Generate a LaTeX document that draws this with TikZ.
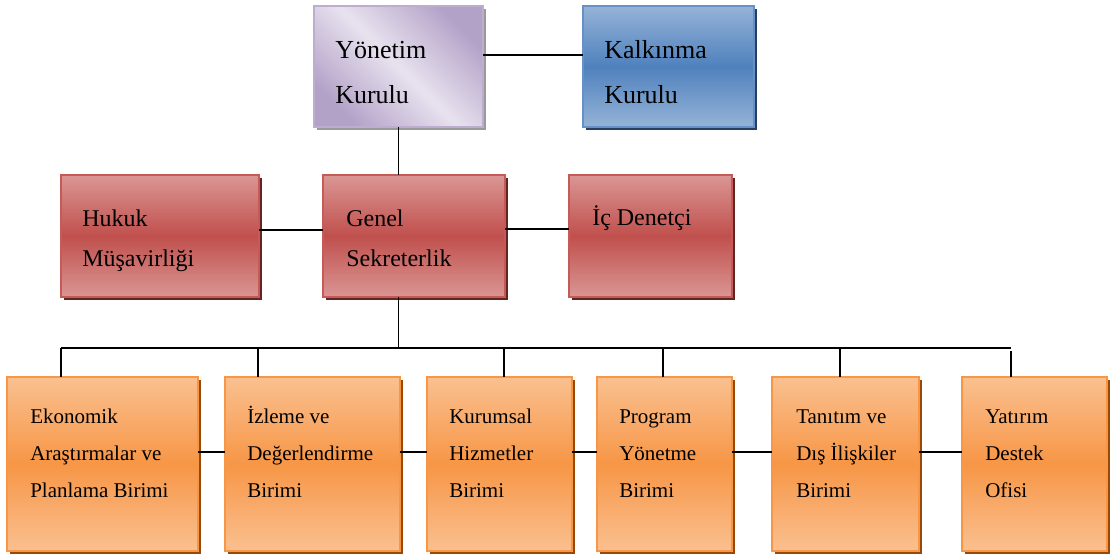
\documentclass[tikz,border=0pt]{standalone}
\usepackage{fontspec}
\setmainfont{Liberation Serif}
\usetikzlibrary{shadows,calc}
\definecolor{oLight}{HTML}{FAC090}
\definecolor{oMid}{HTML}{F79646}
\definecolor{oBorder}{HTML}{F79646}
\definecolor{oShadow}{HTML}{984807}
\definecolor{rLight}{HTML}{DA9694}
\definecolor{rMid}{HTML}{C0504D}
\definecolor{rBorder}{HTML}{C55A57}
\definecolor{rShadow}{HTML}{632523}
\definecolor{bLight}{HTML}{95B3D7}
\definecolor{bMid}{HTML}{4F81BD}
\definecolor{bBorder}{HTML}{6690C6}
\definecolor{bShadow}{HTML}{243F60}
\definecolor{pLight}{HTML}{E8E2EF}
\definecolor{pDark}{HTML}{B3A2C7}
\definecolor{pBorder}{HTML}{BDAED0}
\definecolor{pShadow}{HTML}{9A9A9A}
\begin{document}
\begin{tikzpicture}[x=0.75pt,y=-0.75pt,
  box/.style={draw, line width=1.5pt, inner sep=0pt, outer sep=0pt},
  shad/.style={drop shadow={shadow xshift=2.25pt, shadow yshift=-2.5pt, fill=#1, opacity=1}},
  pbox/.style={box, draw=pBorder, top color=pDark, bottom color=pDark, middle color=pLight, shading angle=-45, shad=pShadow, minimum height=90.75pt},
  bbox/.style={box, draw=bBorder, top color=bLight, bottom color=bLight, middle color=bMid, shad=bShadow, minimum height=90.75pt},
  rbox/.style={box, draw=rBorder, top color=rLight, bottom color=rLight, middle color=rMid, shad=rShadow, minimum height=91.5pt},
  obox/.style={box, draw=oBorder, top color=oLight, bottom color=oLight, middle color=oMid, shad=oShadow, minimum height=130.5pt},
  txt/.style={anchor=base west, align=left, inner sep=0pt},
  ttop/.style={txt, font=\fontsize{19.5}{34}\selectfont},
  tred/.style={txt, font=\fontsize{18}{30.5}\selectfont},
  tbot/.style={txt, font=\fontsize{15.75}{28}\selectfont},
  conn/.style={line width=1.4pt, black}]
\useasboundingbox (0,0) rectangle (1115,555);

% boxes
\node[pbox, minimum width=126.75pt] (yon) at (398.5,66.5) {};
\node[bbox, minimum width=128.25pt] (kal) at (668.5,66.5) {};
\node[rbox, minimum width=148.5pt] (huk) at (160,236) {};
\node[rbox, minimum width=136.5pt] (gen) at (414,236) {};
\node[rbox, minimum width=122.25pt] (ic) at (650.5,236) {};
\node[obox, minimum width=143.25pt] (eko) at (102.5,464) {};
\node[obox, minimum width=131.25pt] (izl) at (312.5,464) {};
\node[obox, minimum width=108.75pt] (kur) at (499.5,464) {};
\node[obox, minimum width=101.25pt] (pro) at (664.5,464) {};
\node[obox, minimum width=110.25pt] (tan) at (845.5,464) {};
\node[obox, minimum width=108.75pt] (yat) at (1034.5,464) {};

% texts (anchor at baseline of the last line)
\node[ttop] (tyon) at ($(yon.north west)+(21,98)$) {Yönetim\\Kurulu};
\node[ttop] (tkal) at ($(kal.north west)+(21,98)$) {Kalkınma\\Kurulu};
\node[tred] (thuk) at ($(huk.north west)+(21,92)$) {Hukuk\\Müşavirliği};
\node[tred] (tgen) at ($(gen.north west)+(23,92)$) {Genel\\Sekreterlik};
\node[tred] (tic) at ($(ic.north west)+(23,51)$) {İç Denetçi};
\node[tbot] (teko) at ($(eko.north west)+(23,121)$) {Ekonomik\\Araştırmalar ve\\Planlama Birimi};
\node[tbot] (tizl) at ($(izl.north west)+(22,121)$) {İzleme ve\\Değerlendirme\\Birimi};
\node[tbot] (tkur) at ($(kur.north west)+(22,121)$) {Kurumsal\\Hizmetler\\Birimi};
\node[tbot] (tpro) at ($(pro.north west)+(22,121)$) {Program\\Yönetme\\Birimi};
\node[tbot] (ttan) at ($(tan.north west)+(24,121)$) {Tanıtım ve\\Dış İlişkiler\\Birimi};
\node[tbot] (tyat) at ($(yat.north west)+(23,121)$) {Yatırım\\Destek\\Ofisi};

% connectors
\coordinate (busL) at ($(eko.north west)+(54,-29)$);
\coordinate (busR) at ($(yat.north west)+(49,-29)$);
\coordinate (busM) at (yon.south |- busL);
\draw[conn] ([yshift=8.6pt]yon.east) -- ([yshift=8.6pt]kal.west);
\draw[conn] (yon.south) -- (yon.south |- gen.north);
\draw[conn] ([yshift=4.5pt]huk.east) -- ([yshift=4.5pt]gen.west);
\draw[conn] ([yshift=5pt]gen.east) -- ([yshift=5pt]ic.west);
\draw[conn] (yon.south |- gen.south) -- (busM);
\draw[conn] (busL) -- (busR);
\draw[conn] (busL) -- (busL |- eko.north);
\draw[conn] ($(izl.north west)+(33,-29)$) -- ($(izl.north west)+(33,0)$);
\draw[conn] ($(kur.north west)+(77,-29)$) -- ($(kur.north west)+(77,0)$);
\draw[conn] ($(pro.north west)+(66,-29)$) -- ($(pro.north west)+(66,0)$);
\draw[conn] ($(tan.north west)+(68,-29)$) -- ($(tan.north west)+(68,0)$);
\draw[conn] ($(busR)+(0,3)$) -- (busR |- yat.north);
\draw[conn] ([yshift=9pt]eko.east) -- ([yshift=9pt]izl.west);
\draw[conn] ([yshift=9pt]izl.east) -- ([yshift=9pt]kur.west);
\draw[conn] ([yshift=9pt]kur.east) -- ([yshift=9pt]pro.west);
\draw[conn] ([yshift=9pt]pro.east) -- ([yshift=9pt]tan.west);
\draw[conn] ([yshift=9pt]tan.east) -- ([yshift=9pt]yat.west);
\end{tikzpicture}
\end{document}
